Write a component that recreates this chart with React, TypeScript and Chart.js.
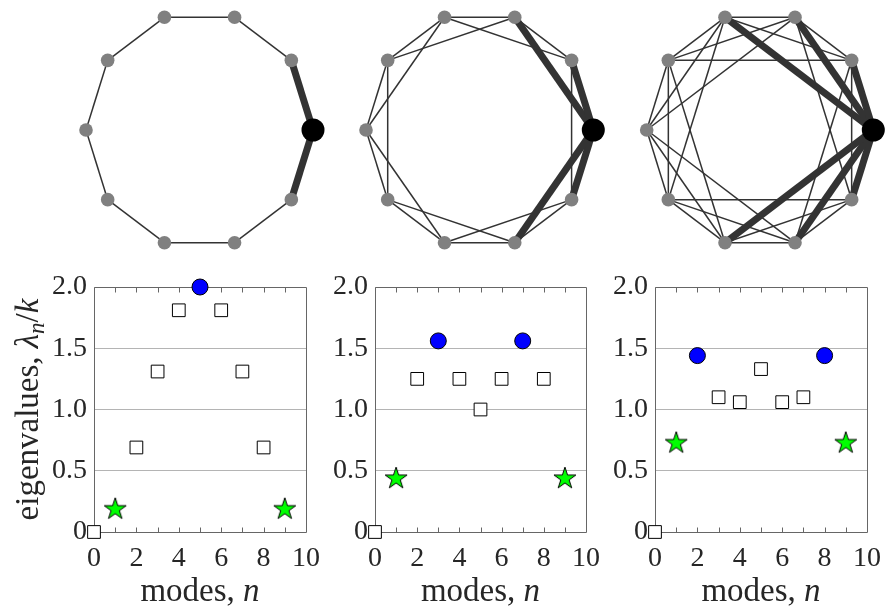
import React, { useEffect, useRef } from 'react';
import { Chart, registerables } from 'chart.js';

Chart.register(...registerables);

// ---------- data ----------
const MODES = [0, 1, 2, 3, 4, 5, 6, 7, 8, 9];
const EIG_RING = [0, 0.19, 0.69, 1.31, 1.81, 2.0, 1.81, 1.31, 0.69, 0.19];
const EIG_K2 = [0, 0.44, 1.25, 1.56, 1.25, 1.0, 1.25, 1.56, 1.25, 0.44];
const EIG_K3 = [0, 0.73, 1.44, 1.1, 1.06, 1.33, 1.06, 1.1, 1.44, 0.73];
const NODE_COUNT = 10;
const OFFSETS_RING = [1];
const OFFSETS_K2 = [1, 2];
const OFFSETS_K3 = [1, 2, 3];
const X_LABELED_TICKS = [0, 2, 4, 6, 8, 10];
const Y_TICKS = [0, 0.5, 1.0, 1.5, 2.0];
const Y_TITLE = ['eigenvalues, ', 'λ', 'n', '/', 'k'];
const X_TITLE = ['modes, ', 'n'];

const SERIF = '"Liberation Serif", "Times New Roman", serif';
const TEXT = '#262626';

function makeStar(): HTMLCanvasElement {
  const c = document.createElement('canvas');
  c.width = 26;
  c.height = 26;
  const g = c.getContext('2d')!;
  const R = 11.5;
  const r = R * 0.382;
  const cx = 13;
  const cy = 13.5;
  g.beginPath();
  for (let k = 0; k < 10; k++) {
    const a = -Math.PI / 2 + (k * Math.PI) / 5;
    const rad = k % 2 === 0 ? R : r;
    const px = cx + rad * Math.cos(a);
    const py = cy + rad * Math.sin(a);
    if (k === 0) g.moveTo(px, py);
    else g.lineTo(px, py);
  }
  g.closePath();
  g.fillStyle = '#00ff00';
  g.fill();
  g.lineWidth = 1;
  g.strokeStyle = '#000';
  g.stroke();
  return c;
}

// ---------- network graph ----------
function Graph(props: { offsets: number[]; left: number; width: number; padL: number; padR: number }) {
  const ref = useRef<HTMLCanvasElement>(null);
  useEffect(() => {
    const nodes = Array.from({ length: NODE_COUNT }, (_, i) => ({
      x: Math.cos((2 * Math.PI * i) / NODE_COUNT),
      y: Math.sin((2 * Math.PI * i) / NODE_COUNT),
    }));
    const datasets: any[] = [
      { data: nodes.slice(1), pointRadius: 6.8, backgroundColor: '#808080', borderWidth: 0, order: 0, clip: false },
      { data: [nodes[0]], pointRadius: 11.5, backgroundColor: '#000000', borderWidth: 0, order: 0, clip: false },
    ];
    for (let i = 0; i < NODE_COUNT; i++) {
      for (const s of props.offsets) {
        const j = (i + s) % NODE_COUNT;
        const thick = i === 0 || j === 0;
        datasets.push({
          data: [nodes[i], nodes[j]],
          showLine: true,
          pointRadius: 0,
          borderColor: '#333333',
          borderWidth: thick ? 7 : 1.5,
          order: thick ? 1 : 2,
          clip: false,
        });
      }
    }
    const chart = new Chart(ref.current!, {
      type: 'scatter',
      data: { datasets },
      options: {
        responsive: false,
        animation: false,
        devicePixelRatio: 1,
        events: [],
        layout: { padding: { left: props.padL, right: props.padR, top: 6.5, bottom: 7.5 } },
        scales: {
          x: { display: false, min: -1, max: 1 },
          y: { display: false, min: -1, max: 1 },
        },
        plugins: { legend: { display: false }, tooltip: { enabled: false } },
      },
    } as any);
    return () => chart.destroy();
  }, []);
  return (
    <canvas
      ref={ref}
      width={props.width}
      height={260}
      style={{ position: 'absolute', left: props.left, top: 0, width: props.width, height: 260 }}
    />
  );
}

// ---------- spectrum plot ----------
function Spectrum(props: {
  values: number[];
  left: number;
  width: number;
  areaLeft: number;
  areaWidth: number;
  yTitle: boolean;
}) {
  const ref = useRef<HTMLCanvasElement>(null);
  useEffect(() => {
    const values = props.values;
    const maxV = Math.max(...values);
    const squares: any[] = [];
    const circles: any[] = [];
    const stars: any[] = [];
    MODES.forEach((n, i) => {
      const p = { x: n, y: values[i] };
      if (i === 1 || i === MODES.length - 1) stars.push(p);
      else if (values[i] === maxV) circles.push(p);
      else squares.push(p);
    });
    const star = makeStar();
    const H = 361;
    const top = 37;
    const bottom = 282;

    const framePlugin = {
      id: 'frame',
      beforeDatasetsDraw(chart: any) {
        const { ctx, chartArea: a, scales } = chart;
        ctx.save();
        ctx.strokeStyle = '#666666';
        ctx.lineWidth = 1;
        const l = Math.round(a.left) + 0.5;
        const r = Math.round(a.right) + 0.5;
        const t = Math.round(a.top) + 0.5;
        const b = Math.round(a.bottom) + 0.5;
        ctx.beginPath();
        ctx.rect(l, t, r - l, b - t);
        for (const tk of scales.x.ticks) {
          if (tk.value <= 0 || tk.value >= 10) continue;
          const px = Math.round(scales.x.getPixelForValue(tk.value)) + 0.5;
          ctx.moveTo(px, b);
          ctx.lineTo(px, b - 5);
          ctx.moveTo(px, t);
          ctx.lineTo(px, t + 5);
        }
        ctx.stroke();
        ctx.restore();
      },
      afterDraw(chart: any) {
        const { ctx, chartArea: a } = chart;
        ctx.save();
        ctx.fillStyle = TEXT;
        ctx.textBaseline = 'alphabetic';
        ctx.textAlign = 'left';
        const normal = `33px ${SERIF}`;
        const ital = `italic 33px ${SERIF}`;
        const sub = `italic 23px ${SERIF}`;
        // x title
        {
          const segs = [
            { t: X_TITLE[0], f: normal, dy: 0 },
            { t: X_TITLE[1], f: ital, dy: 0 },
          ];
          let total = 0;
          for (const s of segs) {
            ctx.font = s.f;
            total += ctx.measureText(s.t).width;
          }
          let x = (a.left + a.right) / 2 - total / 2;
          const y = a.bottom + 69;
          for (const s of segs) {
            ctx.font = s.f;
            ctx.fillText(s.t, x, y + s.dy);
            x += ctx.measureText(s.t).width;
          }
        }
        if (props.yTitle) {
          const segs = [
            { t: Y_TITLE[0], f: normal, dy: 0 },
            { t: Y_TITLE[1], f: ital, dy: 0 },
            { t: Y_TITLE[2], f: sub, dy: 6 },
            { t: Y_TITLE[3], f: normal, dy: 0 },
            { t: Y_TITLE[4], f: ital, dy: 0 },
          ];
          let total = 0;
          for (const s of segs) {
            ctx.font = s.f;
            total += ctx.measureText(s.t).width;
          }
          ctx.translate(a.left - 56, (a.top + a.bottom) / 2);
          ctx.rotate(-Math.PI / 2);
          let x = -total / 2;
          for (const s of segs) {
            ctx.font = s.f;
            ctx.fillText(s.t, x, s.dy);
            x += ctx.measureText(s.t).width;
          }
        }
        ctx.restore();
      },
    };

    const chart = new Chart(ref.current!, {
      type: 'scatter',
      data: {
        datasets: [
          {
            data: circles,
            pointStyle: 'circle',
            pointRadius: 8,
            backgroundColor: '#0000ff',
            borderColor: '#000000',
            borderWidth: 1,
            clip: false,
          },
          {
            data: stars,
            pointStyle: star,
            pointRadius: 10,
            clip: false,
          },
          {
            data: squares,
            pointStyle: 'rect',
            pointRadius: 9,
            backgroundColor: '#ffffff',
            borderColor: '#000000',
            borderWidth: 1,
            clip: false,
          },
        ],
      },
      options: {
        responsive: false,
        animation: false,
        devicePixelRatio: 1,
        events: [],
        layout: {
          padding: { left: 0, top, right: props.width - props.areaLeft - props.areaWidth, bottom: 0 },
        },
        scales: {
          x: {
            type: 'linear',
            min: 0,
            max: 10,
            ticks: {
              stepSize: 1,
              autoSkip: false,
              maxRotation: 0,
              padding: 10,
              color: TEXT,
              font: { family: SERIF, size: 28 },
              callback: (v: any) => (X_LABELED_TICKS.includes(Number(v)) ? String(v) : ''),
            },
            grid: { display: false, drawTicks: false },
            border: { display: false },
            afterFit: (s: any) => {
              s.height = H - bottom;
            },
          },
          y: {
            type: 'linear',
            min: Y_TICKS[0],
            max: Y_TICKS[Y_TICKS.length - 1],
            ticks: {
              stepSize: 0.5,
              padding: 7,
              color: TEXT,
              font: { family: SERIF, size: 28 },
              callback: (v: any) => (Number(v) === 0 ? '0' : Number(v).toFixed(1)),
            },
            grid: { color: '#b4b4b4', drawTicks: false, lineWidth: 1 },
            border: { display: false },
            afterFit: (s: any) => {
              s.width = props.areaLeft;
            },
          },
        },
        plugins: { legend: { display: false }, tooltip: { enabled: false } },
      },
      plugins: [framePlugin],
    } as any);
    return () => chart.destroy();
  }, []);
  return (
    <canvas
      ref={ref}
      width={props.width}
      height={361}
      style={{ position: 'absolute', left: props.left, top: 250, width: props.width, height: 361 }}
    />
  );
}

export default function App() {
  return (
    <div style={{ position: 'absolute', left: 0, top: 0, width: 891, height: 611, background: '#fff', overflow: 'hidden' }}>
      <Graph offsets={OFFSETS_RING} left={60} width={280} padL={26} padR={27} />
      <Graph offsets={OFFSETS_K2} left={340} width={280} padL={26} padR={26.7} />
      <Graph offsets={OFFSETS_K3} left={620} width={271} padL={26.7} padR={17.7} />
      <Spectrum values={EIG_RING} left={0} width={330} areaLeft={94} areaWidth={220} yTitle={true} />
      <Spectrum values={EIG_K2} left={330} width={280} areaLeft={45} areaWidth={220} yTitle={false} />
      <Spectrum values={EIG_K3} left={610} width={281} areaLeft={45} areaWidth={220} yTitle={false} />
    </div>
  );
}
